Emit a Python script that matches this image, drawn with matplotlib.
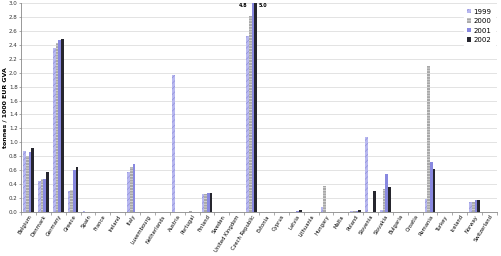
import numpy as np
from matplotlib import pyplot as plt

# data
countries = ["Belgium", "Denmark", "Germany", "Greece", "Spain", "France", "Ireland", "Italy",
             "Luxembourg", "Netherlands", "Austria", "Portugal", "Finland", "Sweden",
             "United Kingdom", "Czech Republic", "Estonia", "Cyprus", "Latvia", "Lithuania",
             "Hungary", "Malta", "Poland", "Slovenia", "Slovakia", "Bulgaria", "Croatia",
             "Romania", "Turkey", "Iceland", "Norway", "Switzerland"]
y1999 = [0.88, 0.45, 2.35, 0.30, 0.01, 0, 0, 0.58, 0, 0, 1.96, 0, 0.26, 0, 0, 2.52,
         0, 0, 0, 0, 0.07, 0, 0.01, 1.07, 0.03, 0, 0, 0.19, 0, 0, 0.15, 0]
y2000 = [0.80, 0.48, 2.42, 0.31, 0, 0, 0, 0.64, 0, 0, 0, 0.01, 0.26, 0, 0, 2.82,
         0, 0, 0, 0, 0.38, 0, 0.01, 0, 0.33, 0, 0, 2.10, 0, 0, 0.15, 0]
y2001 = [0.86, 0.48, 2.47, 0.60, 0, 0, 0, 0.69, 0, 0, 0, 0, 0.27, 0, 0, 4.8,
         0, 0, 0.02, 0, 0, 0, 0.02, 0, 0.55, 0, 0, 0.72, 0, 0, 0.17, 0]
y2002 = [0.92, 0.57, 2.49, 0.65, 0, 0, 0, 0, 0, 0, 0, 0, 0.27, 0, 0, 5.0,
         0, 0, 0.03, 0, 0, 0, 0.03, 0.30, 0.36, 0, 0, 0.62, 0, 0, 0.17, 0]
years = ["1999", "2000", "2001", "2002"]

series = [y1999, y2000, y2001, y2002]
colors = ["#b8b8f0", "#a8a8a8", "#8888e0", "#26262e"]
hatch_col = ["#8c8cd8", "#f0f0f0", "#8888e0", "#26262e"]
hatches = ["//////", "------", "", ""]

plt.rcParams['hatch.linewidth'] = 0.4
fig = plt.figure(figsize=(5.02, 2.56), dpi=100)
ax = fig.add_axes([0.042, 0.172, 0.948, 0.816])

x = np.arange(len(countries))
w = 0.18
for i in range(4):
    ax.bar(x + (i - 1.5) * w, series[i], w, color=colors[i], edgecolor=hatch_col[i],
           hatch=hatches[i], linewidth=0, label=years[i], zorder=2)

# values of the bars cut off at the top
cz = countries.index("Czech Republic")
ax.text(cz - 0.3, 2.96, "4.8", fontsize=3.5, fontweight="bold", ha="right", va="center")
ax.text(cz + 0.45, 2.96, "5.0", fontsize=3.5, fontweight="bold", ha="left", va="center")

ax.set_xlim(-0.5, len(countries) - 0.5)
ax.set_ylim(0, 3.0)
ax.set_yticks(np.arange(0, 3.01, 0.2))
ax.set_yticklabels(["{:.1f}".format(v) for v in np.arange(0, 3.01, 0.2)], fontsize=4, color="#333333")
ax.set_xticks(x)
ax.set_xticklabels(countries, rotation=58, ha="right", rotation_mode="anchor", fontsize=3.8)
ax.set_xticks(np.arange(-0.5, len(countries), 1), minor=True)
ax.tick_params(axis="x", which="major", length=0, pad=1.5)
ax.tick_params(axis="x", which="minor", length=2, color="#888888", width=0.5)
ax.tick_params(axis="y", length=1.5, color="#888888", width=0.5, pad=1)
ax.grid(axis="y", color="#d8d8d8", linewidth=0.5, zorder=0)
for s in ["top", "right"]:
    ax.spines[s].set_visible(False)
ax.spines["left"].set_color("#888888")
ax.spines["bottom"].set_color("#888888")
ax.spines["left"].set_linewidth(0.6)
ax.spines["bottom"].set_linewidth(0.6)

ax.set_ylabel("tonnes / 1000 EUR GVA", fontsize=4.5, fontweight="bold", labelpad=1)
leg = ax.legend(loc="upper right", fontsize=5, frameon=True, framealpha=1, edgecolor="white",
                handlelength=0.6, handleheight=0.6, handletextpad=0.3, labelspacing=0.5,
                borderaxespad=0.3, borderpad=0.5)

plt.savefig("out.png", dpi=100)
